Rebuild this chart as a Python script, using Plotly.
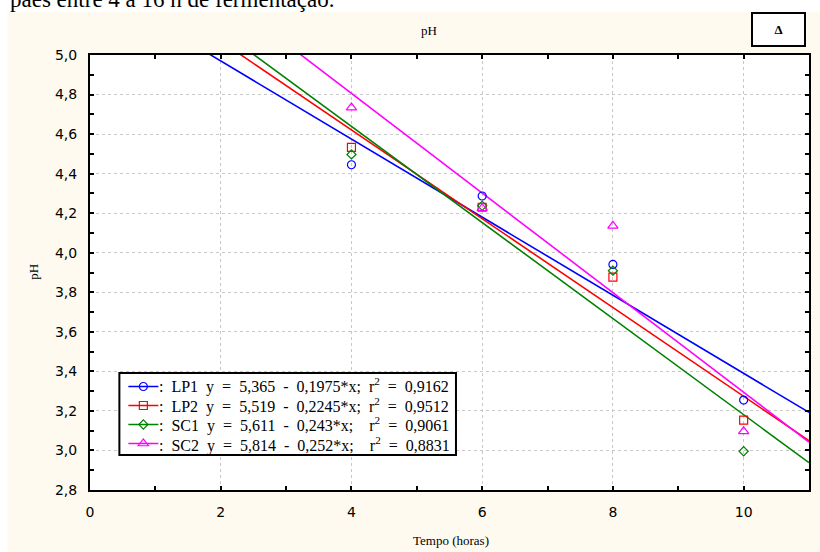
import plotly.graph_objects as go

# ---- data ----
tempo = [4, 6, 8, 10]
lp1 = [4.445, 4.287, 3.941, 3.255]
lp2 = [4.533, 4.230, 3.877, 3.153]
sc1 = [4.497, 4.237, 3.909, 2.996]
sc2 = [4.734, 4.225, 4.136, 3.097]

names = ["LP1", "LP2", "SC1", "SC2"]
intercepts = [5.365, 5.519, 5.611, 5.814]
slopes = [-0.1975, -0.2245, -0.243, -0.252]
S = "\u2002"  # wide space
eq_text = [
    f":{S}LP1{S}y{S}={S}5,365{S}-{S}0,1975*x;{S}r<sup>2</sup>{S}={S}0,9162",
    f":{S}LP2{S}y{S}={S}5,519{S}-{S}0,2245*x;{S}r<sup>2</sup>{S}={S}0,9512",
    f":{S}SC1{S}y{S}={S}5,611{S}-{S}0,243*x;{S}{S}r<sup>2</sup>{S}={S}0,9061",
    f":{S}SC2{S}y{S}={S}5,814{S}-{S}0,252*x;{S}{S}r<sup>2</sup>{S}={S}0,8831",
]
series = [lp1, lp2, sc1, sc2]
colors = ["#0000ff", "#ff0000", "#008000", "#ff00ff"]
symbols = ["circle-open", "square-open", "diamond-open", "triangle-up-open"]
msizes = [8, 8, 7, 9]
x_line = [0, 11]

fig = go.Figure()
for i in range(4):
    yl = [intercepts[i] + slopes[i] * xv for xv in x_line]
    fig.add_trace(go.Scatter(x=x_line, y=yl, mode="lines",
                             line=dict(color=colors[i], width=1.6),
                             showlegend=False, hoverinfo="skip"))
for i in range(4):
    fig.add_trace(go.Scatter(x=tempo, y=series[i], mode="markers",
                             marker=dict(symbol=symbols[i], size=msizes[i],
                                         color=colors[i], line=dict(width=1.2, color=colors[i])),
                             showlegend=False))
for i in range(4):
    fig.add_trace(go.Scatter(x=[None], y=[None], mode="lines+markers",
                             name="\u2009",
                             line=dict(color=colors[i], width=1.6),
                             marker=dict(symbol=symbols[i], size=msizes[i],
                                         color=colors[i], line=dict(width=1.2, color=colors[i]))))

L, R, T, B = 89.5, 811.5, 55, 490
W, H = 820, 552
pw, ph = R - L, B - T

def px(x):
    return (x - L) / pw

def py(y):
    return (B - y) / ph

axis_common = dict(
    showline=True, linecolor="black", linewidth=2, mirror="ticks",
    ticks="inside", ticklen=4, tickwidth=1.5, tickcolor="black",
    showgrid=True, gridcolor="#c8c8c8", griddash="dot", gridwidth=1,
    zeroline=False,
    tickfont=dict(family="DejaVu Sans", size=14, color="black"),
)

fig.update_xaxes(range=[0, 11], tickvals=[0, 2, 4, 6, 8, 10],
                 minor=dict(ticks="inside", dtick=1, tick0=0, ticklen=4, tickcolor="black", showgrid=False),
                 ticklabelstandoff=8, **axis_common)
fig.update_yaxes(range=[2.8, 5.0], tick0=2.8, dtick=0.2, tickformat=".1f",
                 minor=dict(ticks="inside", dtick=0.1, tick0=2.8, ticklen=4, tickcolor="black", showgrid=False),
                 ticklabelstandoff=8, **axis_common)

serif = "Liberation Serif"
row_y = [385, 404.5, 424, 443.5]
annotations = [
    dict(text="pães entre 4 a 16 h de fermentação.", xref="paper", yref="paper",
         x=px(7), y=py(-0.5), xanchor="left", yanchor="middle", showarrow=False,
         font=dict(family=serif, size=23, color="black")),
    dict(text="pH", xref="paper", yref="paper", x=px(430), y=py(31),
         xanchor="center", yanchor="middle", showarrow=False,
         font=dict(family=serif, size=13, color="black")),
    dict(text="<b>Δ</b>", xref="paper", yref="paper", x=px(780.5), y=py(29.5),
         xanchor="center", yanchor="middle", showarrow=False,
         width=51, height=31, bgcolor="white", bordercolor="black",
         borderwidth=2, borderpad=0,
         font=dict(family=serif, size=13, color="black")),
    dict(text="pH", xref="paper", yref="paper", x=px(32), y=py(272),
         xanchor="center", yanchor="middle", showarrow=False, textangle=-90,
         font=dict(family=serif, size=13, color="black")),
    dict(text="Tempo (horas)", xref="paper", yref="paper", x=px(452), y=py(540),
         xanchor="center", yanchor="middle", showarrow=False,
         font=dict(family=serif, size=13, color="black")),
]
for i in range(4):
    annotations.append(dict(text=eq_text[i], xref="paper", yref="paper",
                            x=px(158), y=py(row_y[i] + 0.5), xanchor="left", yanchor="middle",
                            showarrow=False, borderpad=0,
                            font=dict(family=serif, size=16, color="black")))

fig.update_layout(
    width=W, height=H,
    margin=dict(l=L, r=W - R, t=T, b=H - B, pad=0),
    paper_bgcolor="#fefaef", plot_bgcolor="white",
    separators=",.",
    legend=dict(x=px(123), y=py(372), xanchor="left", yanchor="top",
                bgcolor="rgba(0,0,0,0)", borderwidth=0,
                font=dict(family=serif, size=11, color="black"),
                itemwidth=30, tracegroupgap=0),
    shapes=[
        dict(type="rect", xref="paper", yref="paper",
             x0=px(-10), x1=px(830), y0=py(11.5), y1=py(-10),
             fillcolor="white", line=dict(width=0), layer="above"),
        dict(type="rect", xref="paper", yref="paper",
             x0=px(-10), x1=px(6.5), y0=py(560), y1=py(-10),
             fillcolor="white", line=dict(width=0), layer="above"),
        dict(type="rect", xref="paper", yref="paper",
             x0=px(119), x1=px(457), y0=py(455), y1=py(373),
             fillcolor="white", line=dict(width=2, color="black"), layer="above"),
    ],
    annotations=annotations,
)

fig.write_html("out.html")
